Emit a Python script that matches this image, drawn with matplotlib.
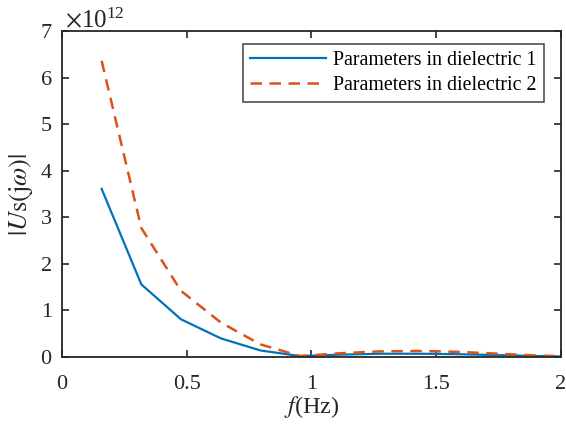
import numpy as np
import matplotlib
matplotlib.use("Agg")
import matplotlib.pyplot as plt
from matplotlib.ticker import ScalarFormatter

plt.rcParams['font.family'] = ['Liberation Serif', 'DejaVu Serif']
plt.rcParams['mathtext.fontset'] = 'stix'

# Frequency samples (Hz)
freq = [0.159, 0.318, 0.477, 0.637, 0.796, 0.955, 1.114, 1.273, 1.432,
        1.592, 1.751, 1.910, 2.069]
# |Us(jw)| magnitudes, in units of 1e12
us_dielectric1 = [3.61, 1.56, 0.81, 0.40, 0.14, 0.02, 0.05, 0.07, 0.07,
                  0.06, 0.04, 0.02, 0.005]
us_dielectric2 = [6.36, 2.77, 1.42, 0.74, 0.27, 0.02, 0.08, 0.12, 0.13,
                  0.11, 0.07, 0.03, 0.01]
scale = 1e12

labels = ['Parameters in dielectric 1', 'Parameters in dielectric 2']
xticks = [0, 0.5, 1, 1.5, 2]
yticks = [0, 1, 2, 3, 4, 5, 6, 7]

fig = plt.figure(figsize=(5.66, 4.32), dpi=100)
ax = fig.add_axes([0.1095, 0.1736, 0.8815, 0.7546])

ax.plot(freq, np.array(us_dielectric1) * scale, color=(0, 0.447, 0.741),
        lw=1.6, label=labels[0])
ax.plot(freq, np.array(us_dielectric2) * scale, color=(0.85, 0.325, 0.098),
        lw=1.8, ls=(0, (4.6, 3.0)), label=labels[1])

ax.set_xlim(0, 2)
ax.set_ylim(0, 7 * scale)
ax.set_xticks(xticks)
ax.set_xticklabels(['0', '0.5', '1', '1.5', '2'])
ax.set_yticks(np.array(yticks) * scale)

fmt = ScalarFormatter(useMathText=True)
fmt.set_powerlimits((0, 0))
ax.yaxis.set_major_formatter(fmt)
offset = ax.yaxis.get_offset_text()
offset.set_fontsize(18)
offset.set_color('#262626')
offset.set_x(0.006)

for s in ax.spines.values():
    s.set_color('#262626')
    s.set_linewidth(1.3)
ax.tick_params(direction='in', top=True, right=True, length=5, width=1.2,
               labelsize=16, colors='#262626', labelcolor='#262626')
ax.tick_params(axis='x', pad=13)
ax.tick_params(axis='y', pad=7)

ax.set_xlabel(r'$f$(Hz)', fontsize=17.5, color='#262626', labelpad=0)
ax.set_ylabel(r'$|U\mathrm{s(j}\omega\mathrm{)}|$', fontsize=19,
              color='#262626', labelpad=3)

leg = ax.legend(loc='upper right', bbox_to_anchor=(0.966, 0.96), fontsize=14.3,
                frameon=True, fancybox=False, edgecolor='#262626',
                handlelength=3.8, borderpad=0.35, labelspacing=0.3,
                handletextpad=0.4, borderaxespad=0.0)
leg.get_frame().set_linewidth(1.2)

fig.savefig('out.png', dpi=100, facecolor='white')
